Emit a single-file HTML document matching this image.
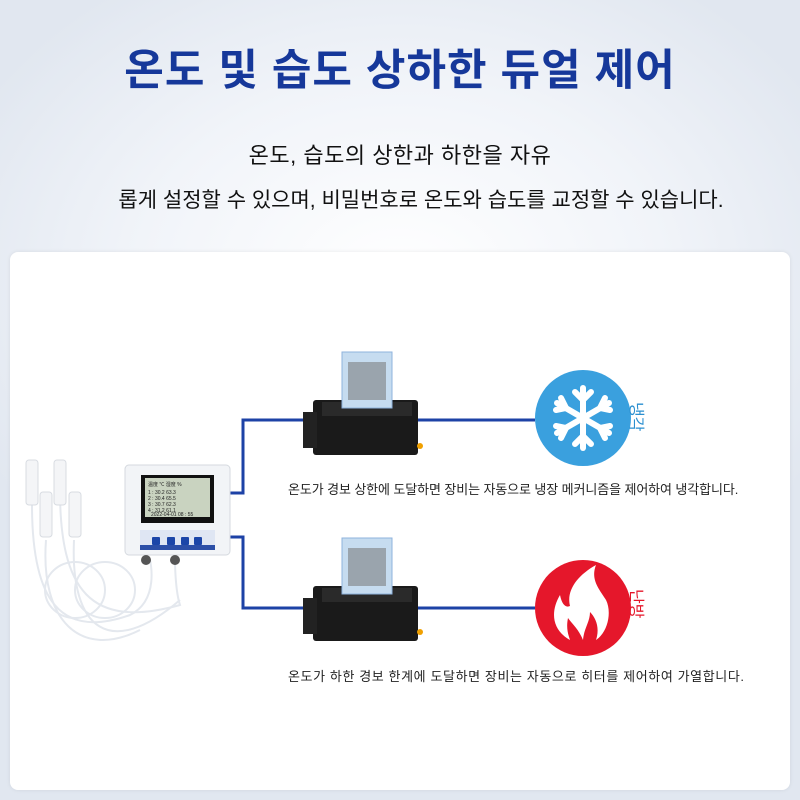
<!DOCTYPE html>
<html><head><meta charset="utf-8"><style>
html,body{margin:0;padding:0}
body{width:800px;height:800px;position:relative;overflow:hidden;background:radial-gradient(ellipse 60% 45% at 50% 35%,#ffffff 0%,#f1f4f9 55%,#e1e7f0 100%);font-family:"Liberation Sans","Noto Sans CJK KR",sans-serif}
.t{position:absolute;left:0;width:800px;text-align:center;white-space:nowrap}
.card{position:absolute;left:10px;top:252px;width:780px;height:538px;background:#fff;border-radius:8px;box-shadow:0 0 4px rgba(0,0,0,.08)}
.s{position:absolute;font-size:13px;color:#222;white-space:nowrap}
</style></head><body>
<div class="t" style="top:36px;font-size:43px;font-weight:bold;color:#16389a;letter-spacing:1px">온도 및 습도 상하한 듀얼 제어</div>
<div class="t" style="top:138px;font-size:22px;color:#111;letter-spacing:0.5px">온도, 습도의 상한과 하한을 자유</div>
<div class="t" style="top:184px;left:21px;font-size:21px;color:#111">롭게 설정할 수 있으며, 비밀번호로 온도와 습도를 교정할 수 있습니다.</div>
<div class="card"></div>
<svg style="position:absolute;left:0;top:0" width="800" height="800">
<g fill="none" stroke="#1d42a6" stroke-width="3">
<polyline points="230,493 243,493 243,420 320,420"/>
<line x1="412" y1="420" x2="535" y2="420"/>
<polyline points="230,537 243,537 243,608 320,608"/>
<line x1="412" y1="608" x2="535" y2="608"/>
</g>
<g stroke="#e4e8ee" stroke-width="2" fill="none">
<path d="M32,505 C32,600 60,640 130,615 C160,600 150,560 150,560"/>
<path d="M60,490 C60,590 90,630 180,605 C175,590 175,560 175,560"/>
<path d="M46,540 C40,620 80,660 140,630"/>
<path d="M74,540 C70,630 110,660 180,600"/>
<ellipse cx="75" cy="590" rx="30" ry="28"/><ellipse cx="105" cy="590" rx="30" ry="28"/>
</g>
<g fill="#f4f5f7" stroke="#d8dce2">
<rect x="26" y="460" width="12" height="45" rx="3"/><rect x="54" y="460" width="12" height="45" rx="3"/>
<rect x="40" y="492" width="12" height="45" rx="3"/><rect x="69" y="492" width="12" height="45" rx="3"/>
</g>
<rect x="125" y="465" width="105" height="90" rx="4" fill="#f2f4f7" stroke="#d5d9df"/>
<rect x="141" y="475" width="73" height="48" fill="#111"/>
<rect x="145" y="478" width="65" height="39" fill="#c9d3c0"/>
<text x="148" y="486" font-size="5" fill="#222">温度 ℃ 湿度 %</text>
<text x="148" y="494" font-size="5" fill="#222">1 : 30.2  63.3</text>
<text x="148" y="500" font-size="5" fill="#222">2 : 30.4  65.5</text>
<text x="148" y="506" font-size="5" fill="#222">3 : 30.7  62.3</text>
<text x="148" y="512" font-size="5" fill="#222">4 : 31.2  61.1</text>
<text x="151" y="516" font-size="5" fill="#222">2022-04-01  08 : 55</text>
<rect x="140" y="530" width="75" height="20" fill="#dfe6f3"/>
<rect x="140" y="545" width="75" height="5" fill="#2c4fa7"/>
<g fill="#1c46a8"><rect x="152" y="537" width="8" height="8" rx="1"/><rect x="167" y="537" width="8" height="8" rx="1"/><rect x="181" y="537" width="8" height="8" rx="1"/><rect x="194" y="537" width="8" height="8" rx="1"/></g>
<g fill="#555"><circle cx="146" cy="560" r="5"/><circle cx="175" cy="560" r="5"/></g>
<g id="r">
<rect x="313" y="400" width="105" height="55" fill="#1a1a1a" rx="3"/>
<rect x="303" y="412" width="14" height="36" fill="#222"/>
<rect x="322" y="402" width="90" height="14" fill="#2a2a2a"/>
<rect x="342" y="352" width="50" height="56" fill="#c6dcf0" stroke="#8fb3dd"/>
<rect x="348" y="362" width="38" height="38" fill="#9aa4ad"/>
<circle cx="420" cy="446" r="3" fill="#f0a000"/>
</g>
<use href="#r" transform="translate(0,186)"/>
<circle cx="583" cy="418" r="48" fill="#3aa0de"/>
<g stroke="#fff" stroke-width="6" stroke-linecap="round" fill="none">
<line x1="583" y1="388" x2="583" y2="448"/><line x1="557" y1="403" x2="609" y2="433"/><line x1="557" y1="433" x2="609" y2="403"/>
<polyline points="575,392 583,400 591,392"/><polyline points="575,444 583,436 591,444"/>
<polyline points="561,398 566,408 556,410"/><polyline points="605,438 600,428 610,426"/>
<polyline points="561,438 566,428 556,426"/><polyline points="605,398 600,408 610,410"/>
</g>
<circle cx="583" cy="608" r="48" fill="#e5172b"/>
<path d="M570,640 C552,630 550,612 560,595 C562,605 566,608 570,606 C566,590 578,575 596,565 C590,580 600,590 606,600 C612,612 608,632 596,640 C600,628 596,618 590,612 C590,622 584,628 583,640 C578,628 572,624 568,618 C566,628 568,634 570,640 Z" fill="#fff"/>
<text x="631" y="402" font-size="16" fill="#2a8fd0" transform="rotate(90 631 402)" font-family="Liberation Sans,Noto Sans CJK KR,sans-serif">냉각</text>
<text x="631" y="589" font-size="16" fill="#e5172b" transform="rotate(90 631 589)" font-family="Liberation Sans,Noto Sans CJK KR,sans-serif">난방</text>
</svg>
<div class="s" style="left:288px;top:479px;letter-spacing:-0.1px">온도가 경보 상한에 도달하면 장비는 자동으로 냉장 메커니즘을 제어하여 냉각합니다.</div>
<div class="s" style="left:288px;top:666px;letter-spacing:0.6px">온도가 하한 경보 한계에 도달하면 장비는 자동으로 히터를 제어하여 가열합니다.</div>
</body></html>
